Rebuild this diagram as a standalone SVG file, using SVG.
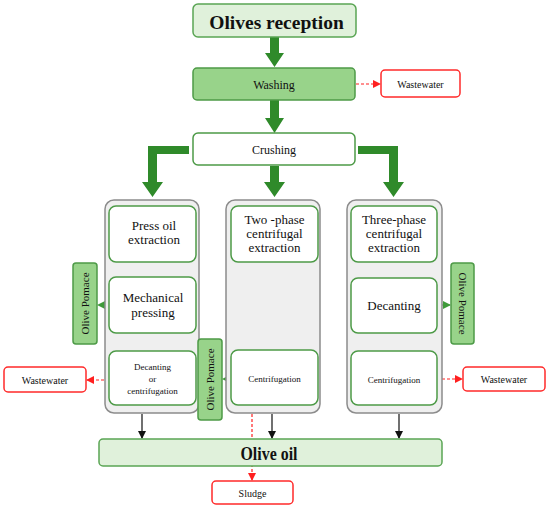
<svg xmlns="http://www.w3.org/2000/svg" width="550" height="510" viewBox="0 0 550 510">
<defs>
<style>
.col{fill:#efefef;stroke:#8c8c8c;stroke-width:1.5}
.box{fill:#fff;stroke:#4d9a47;stroke-width:1.5}
.lg{fill:#e0f1db;stroke:#5aa554;stroke-width:1.5}
.mg{fill:#98d38a;stroke:#4d9a47;stroke-width:1.5}
.red{fill:#fff;stroke:#ff2a2a;stroke-width:1.5}
.big{fill:#2f8a2a}
.blk{stroke:#111;stroke-width:1.2;fill:none}
.rd{stroke:#ff2020;stroke-width:1.2;stroke-dasharray:3 2;fill:none}
.gd{stroke:#3f9a3a;stroke-width:1;stroke-dasharray:2 2;fill:none}
</style>
<marker id="ab" markerWidth="8" markerHeight="8" refX="7" refY="4" orient="auto" markerUnits="userSpaceOnUse"><path d="M0,0 L8,4 L0,8 Z" fill="#111"/></marker>
<marker id="ar" markerWidth="8" markerHeight="8" refX="7" refY="4" orient="auto" markerUnits="userSpaceOnUse"><path d="M0,0 L8,4 L0,8 Z" fill="#ff2020"/></marker>
<marker id="ag" markerWidth="8" markerHeight="8" refX="7" refY="4" orient="auto" markerUnits="userSpaceOnUse"><path d="M0,0 L8,4 L0,8 Z" fill="#3f9a3a"/></marker>
</defs>

<g id="connectors">
<path class="big" d="M270,37 H279 V53 H284 L274.5,67 L265,53 H270 Z"/>
<path class="big" d="M270,100 H279 V118 H284 L274.5,133 L265,118 H270 Z"/>
<path class="big" d="M270,166 H279 V182 H285 L274.5,197 L264,182 H270 Z"/>
<path class="big" d="M189,146 V154 H157 V182 H163 L152.5,197 L142,182 H148 V146 Z"/>
<path class="big" d="M358,146 V154 H389 V182 H383 L393.5,197 L404,182 H398 V146 Z"/>
<line class="blk" x1="152" y1="262" x2="152" y2="276" marker-end="url(#ab)"/>
<line class="blk" x1="152" y1="333" x2="152" y2="350" marker-end="url(#ab)"/>
<line class="blk" x1="274" y1="262" x2="274" y2="349" marker-end="url(#ab)"/>
<line class="blk" x1="394" y1="262" x2="394" y2="277" marker-end="url(#ab)"/>
<line class="blk" x1="394" y1="333" x2="394" y2="350" marker-end="url(#ab)"/>
<line class="blk" x1="142" y1="414" x2="142" y2="438" marker-end="url(#ab)"/>
<line class="blk" x1="272" y1="414" x2="272" y2="438" marker-end="url(#ab)"/>
<line class="blk" x1="399" y1="414" x2="399" y2="438" marker-end="url(#ab)"/>
<line class="rd" x1="356" y1="84" x2="380" y2="84" marker-end="url(#ar)"/>
<line class="rd" x1="109" y1="380" x2="87" y2="380" marker-end="url(#ar)"/>
<line class="rd" x1="437" y1="379" x2="462" y2="379" marker-end="url(#ar)"/>
<line class="rd" x1="252" y1="414" x2="252" y2="480" marker-end="url(#ar)"/>
<line class="gd" x1="109" y1="305" x2="98" y2="305" marker-end="url(#ag)"/>
<line class="gd" x1="231" y1="379" x2="223" y2="379" marker-end="url(#ag)"/>
<line class="gd" x1="437" y1="305" x2="450" y2="305" marker-end="url(#ag)"/>
</g>

<g id="olives-reception"><rect class="lg" x="193" y="4" width="163" height="33" rx="5"/><text x="276.5" y="29" font-size="19.5" font-weight="bold" font-family="Liberation Serif" style="font-family:'Liberation Serif',serif" text-anchor="middle" fill="#111">Olives reception</text></g>
<g id="washing"><rect class="mg" x="193" y="68" width="162" height="32" rx="4"/><text x="274" y="88.7" font-size="12" font-family="Liberation Serif" style="font-family:'Liberation Serif',serif" text-anchor="middle" fill="#111">Washing</text></g>
<g id="wastewater-top"><rect class="red" x="381" y="70" width="79" height="27" rx="4"/><text x="420.5" y="87.5" font-size="10" font-family="Liberation Serif" style="font-family:'Liberation Serif',serif" text-anchor="middle" fill="#111">Wastewater</text></g>
<g id="crushing"><rect class="box" x="193" y="133" width="162" height="32" rx="5"/><text x="274" y="153.7" font-size="12" font-family="Liberation Serif" style="font-family:'Liberation Serif',serif" text-anchor="middle" fill="#111">Crushing</text></g>

<g id="col-left"><rect class="col" x="105" y="200" width="94" height="213" rx="9"/></g>
<g id="col-mid"><rect class="col" x="226" y="200" width="94" height="213" rx="9"/></g>
<g id="col-right"><rect class="col" x="347" y="200" width="95" height="213" rx="9"/></g>

<g id="press-oil"><rect class="box" x="109" y="206" width="87" height="56" rx="7"/><text font-size="13" font-family="Liberation Serif" style="font-family:'Liberation Serif',serif" text-anchor="middle" fill="#111"><tspan x="154" y="230">Press oil</tspan><tspan x="154" y="244">extraction</tspan></text></g>
<g id="mech-pressing"><rect class="box" x="109" y="277" width="87" height="56" rx="7"/><text font-size="13" font-family="Liberation Serif" style="font-family:'Liberation Serif',serif" text-anchor="middle" fill="#111"><tspan x="153" y="302">Mechanical</tspan><tspan x="153" y="316.5">pressing</tspan></text></g>
<g id="decanting-or"><rect class="box" x="109" y="351" width="87" height="54" rx="7"/><text font-size="9" font-family="Liberation Serif" style="font-family:'Liberation Serif',serif" text-anchor="middle" fill="#111"><tspan x="152.5" y="370">Decanting</tspan><tspan x="152.5" y="382">or</tspan><tspan x="152.5" y="394">centrifugation</tspan></text></g>

<g id="two-phase"><rect class="box" x="231" y="206" width="87" height="56" rx="7"/><text font-size="13" font-family="Liberation Serif" style="font-family:'Liberation Serif',serif" text-anchor="middle" fill="#111"><tspan x="274.5" y="224">Two -phase</tspan><tspan x="274.5" y="238">centrifugal</tspan><tspan x="274.5" y="252">extraction</tspan></text></g>
<g id="centrif-mid"><rect class="box" x="231" y="350" width="87" height="55" rx="7"/><text x="274.5" y="382" font-size="9" font-family="Liberation Serif" style="font-family:'Liberation Serif',serif" text-anchor="middle" fill="#111">Centrifugation</text></g>

<g id="three-phase"><rect class="box" x="351" y="206" width="86" height="56" rx="7"/><text font-size="13" font-family="Liberation Serif" style="font-family:'Liberation Serif',serif" text-anchor="middle" fill="#111"><tspan x="394" y="224">Three-phase</tspan><tspan x="394" y="238">centrifugal</tspan><tspan x="394" y="252">extraction</tspan></text></g>
<g id="decanting"><rect class="box" x="351" y="278" width="86" height="55" rx="7"/><text x="394" y="310" font-size="13" font-family="Liberation Serif" style="font-family:'Liberation Serif',serif" text-anchor="middle" fill="#111">Decanting</text></g>
<g id="centrif-right"><rect class="box" x="351" y="351" width="86" height="54" rx="7"/><text x="394" y="383" font-size="9" font-family="Liberation Serif" style="font-family:'Liberation Serif',serif" text-anchor="middle" fill="#111">Centrifugation</text></g>

<g id="pomace-left"><rect class="mg" x="73" y="263" width="24" height="81" rx="3"/><text transform="translate(85,303.5) rotate(-90)" x="0" y="3.8" font-size="11" font-family="Liberation Serif" style="font-family:'Liberation Serif',serif" text-anchor="middle" fill="#111">Olive Pomace</text></g>
<g id="pomace-mid"><rect class="mg" x="198" y="339" width="24" height="81" rx="3"/><text transform="translate(210,379.5) rotate(-90)" x="0" y="3.8" font-size="11" font-family="Liberation Serif" style="font-family:'Liberation Serif',serif" text-anchor="middle" fill="#111">Olive Pomace</text></g>
<g id="pomace-right"><rect class="mg" x="451" y="263" width="23" height="81" rx="3"/><text transform="translate(462.5,303.5) rotate(90)" x="0" y="3.8" font-size="11" font-family="Liberation Serif" style="font-family:'Liberation Serif',serif" text-anchor="middle" fill="#111">Olive Pomace</text></g>

<g id="wastewater-left"><rect class="red" x="4" y="367" width="82" height="25" rx="4"/><text x="45" y="383.5" font-size="10" font-family="Liberation Serif" style="font-family:'Liberation Serif',serif" text-anchor="middle" fill="#111">Wastewater</text></g>
<g id="wastewater-right"><rect class="red" x="463" y="367" width="82" height="24" rx="4"/><text x="504" y="382.5" font-size="10" font-family="Liberation Serif" style="font-family:'Liberation Serif',serif" text-anchor="middle" fill="#111">Wastewater</text></g>

<g id="olive-oil"><rect class="lg" x="99" y="439" width="343" height="27" rx="4"/><text x="269" y="460" font-size="18" font-weight="bold" textLength="57" lengthAdjust="spacingAndGlyphs" font-family="Liberation Serif" style="font-family:'Liberation Serif',serif" text-anchor="middle" fill="#111">Olive oil</text></g>
<g id="sludge"><rect class="red" x="212" y="481" width="81" height="23" rx="4"/><text x="252.5" y="496.5" font-size="10" font-family="Liberation Serif" style="font-family:'Liberation Serif',serif" text-anchor="middle" fill="#111">Sludge</text></g>
</svg>
